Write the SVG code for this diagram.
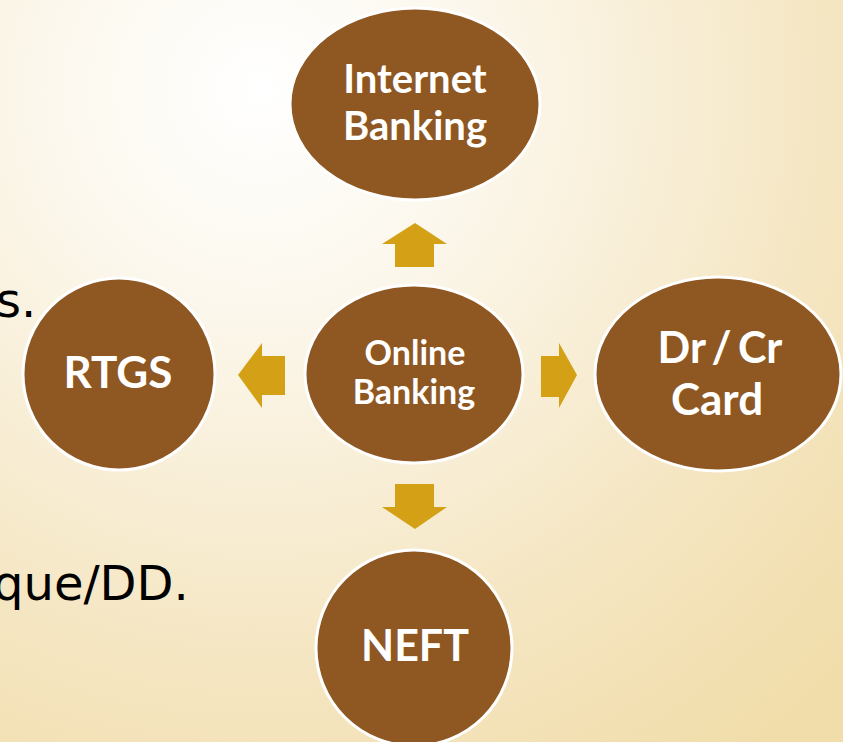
<svg xmlns="http://www.w3.org/2000/svg" width="843" height="742" viewBox="0 0 843 742">
<defs>
<radialGradient id="bg" cx="260" cy="90" r="820" gradientUnits="userSpaceOnUse">
<stop offset="0" stop-color="#FFFFFF"/>
<stop offset="0.25" stop-color="#FCF8EE"/>
<stop offset="0.7" stop-color="#F5E6C2"/>
<stop offset="1" stop-color="#F1DDAA"/>
</radialGradient>
<style>
.node{fill:#8F5822;stroke:#FFFFFF;stroke-width:3}
.lbl{fill:#FFFFFF;font-family:Lato,"Open Sans",sans-serif;font-weight:bold;text-anchor:middle}
.arrow{fill:#D4A116}
.body{fill:#000000;font-family:"DejaVu Sans",sans-serif;font-size:48px}
</style>
</defs>
<rect x="0" y="0" width="843" height="742" fill="url(#bg)"/>
<text class="body" x="-4" y="317">s.</text>
<text class="body" x="-7" y="600">que/DD.</text>
<g id="connectors">
<polygon class="arrow" points="415,223 447,244 434,244 434,267 395,267 395,244 382,244"/>
<polygon class="arrow" points="415,529 447,507 434,507 434,484 395,484 395,507 382,507"/>
<polygon class="arrow" points="238,375 262,343 262,356 285,356 285,395 262,395 262,408"/>
<polygon class="arrow" points="577,375 559,343 559,356 541,356 541,397 559,397 559,408"/>
</g>
<g id="internet-banking">
<ellipse class="node" cx="415" cy="104" rx="125" ry="96"/>
<text class="lbl" x="415" y="93" font-size="40">Internet</text>
<text class="lbl" x="415" y="140" font-size="40">Banking</text>
</g>
<g id="online-banking">
<ellipse class="node" cx="414" cy="374" rx="109" ry="89"/>
<text class="lbl" x="415" y="365" font-size="34">Online</text>
<text class="lbl" x="414" y="404" font-size="34">Banking</text>
</g>
<g id="rtgs">
<ellipse class="node" cx="119" cy="374" rx="96" ry="96"/>
<text class="lbl" x="118" y="388" font-size="44">RTGS</text>
</g>
<g id="drcr-card">
<ellipse class="node" cx="718" cy="374" rx="123" ry="97"/>
<text class="lbl" x="720" y="363" font-size="43" word-spacing="-4">Dr / Cr</text>
<text class="lbl" x="717" y="415" font-size="44">Card</text>
</g>
<g id="neft">
<ellipse class="node" cx="414" cy="648" rx="98" ry="98"/>
<text class="lbl" x="415" y="661" font-size="43">NEFT</text>
</g>
</svg>
